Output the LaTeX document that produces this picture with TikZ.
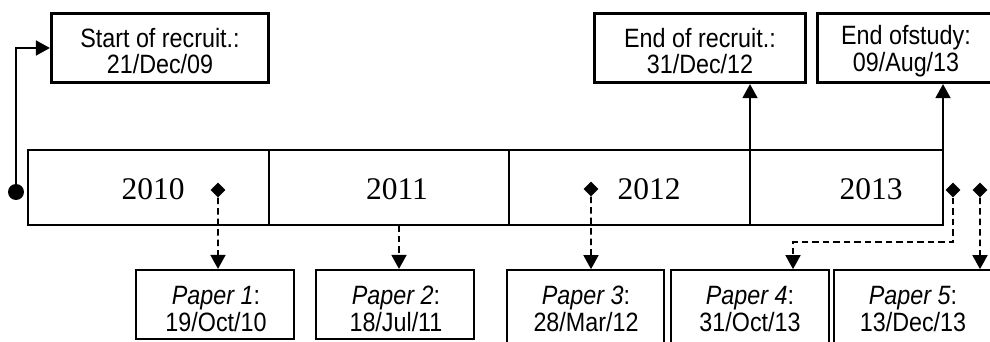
\documentclass[tikz,border=0pt]{standalone}
\usepackage{fontspec}
\setmainfont{Liberation Serif}
\newfontfamily\boxfont[FakeStretch=0.88]{Liberation Sans}
\usetikzlibrary{arrows.meta}
\begin{document}
\begin{tikzpicture}[x=1pt,y=-1pt,
  cell/.style={draw, line width=1.7pt, minimum height=75pt, inner sep=0pt},
  topbox/.style={draw, line width=3.2pt, minimum height=69pt, inner sep=0pt},
  paperbox/.style={draw, line width=1.7pt, minimum width=158.5pt, inner sep=0pt},
  toptext/.style={align=center, inner sep=0pt, font=\boxfont\fontsize{26.5}{26.5}\selectfont},
  papertext/.style={align=center, inner sep=0pt, font=\boxfont\fontsize{26.5}{27}\selectfont},
  yearlbl/.style={inner sep=0pt, font=\fontsize{31.5}{31.5}\selectfont},
  dia/.style={fill=black, rotate=45, minimum size=10.5pt, inner sep=0pt},
  dot/.style={circle, fill=black, minimum size=16pt, inner sep=0pt},
  link/.style={line width=1.7pt, -{Triangle[length=14pt,width=15pt]}},
  dlink/.style={link, dash pattern=on 6.5pt off 4pt}]
\useasboundingbox (0,0) rectangle (990,342);
\clip (0,0) rectangle (990,342);

% timeline cells
\node[cell, minimum width=241pt] (c2010) at (148.5,187.5) {};
\node[cell, minimum width=240pt] (c2011) at (389,187.5) {};
\node[cell, minimum width=241pt] (c2012) at (629.5,187.5) {};
\node[cell, minimum width=193pt] (c2013) at (846.5,187.5) {};
\node[yearlbl] (y2010) at (153,189) {2010};
\node[yearlbl] (y2011) at (397,189) {2011};
\node[yearlbl] (y2012) at (649,189) {2012};
\node[yearlbl] (y2013) at (871,189) {2013};

% top boxes
\node[topbox, minimum width=217pt] (start) at (160,48) {};
\node[toptext] (startt) at ([yshift=-3pt]start.center) {Start of recruit.:\\21/Dec/09};
\node[topbox, minimum width=211pt] (endr) at (700,48) {};
\node[toptext] (endrt) at ([yshift=-3pt]endr.center) {End of recruit.:\\31/Dec/12};
\node[topbox, minimum width=177pt] (ends) at (906,48) {};
\node[toptext] (endst) at ([yshift=-3pt]ends.center) {End ofstudy:\\09/Aug/13};

% paper boxes
\node[paperbox, minimum height=69.5pt] (p1) at (215,304.5) {};
\node[paperbox, minimum height=69.5pt] (p2) at (395,304.5) {};
\node[paperbox, minimum height=80pt, minimum width=157.5pt] (p3) at (585.5,310) {};
\node[paperbox, minimum height=80pt] (p4) at (750,310) {};
\node[paperbox, minimum height=80pt] (p5) at (913,310) {};
\node[papertext] (p1t) at (216,309) {\textit{Paper 1}:\\19/Oct/10};
\node[papertext] (p2t) at (396,309) {\textit{Paper 2}:\\18/Jul/11};
\node[papertext] (p3t) at (586,309) {\textit{Paper 3}:\\28/Mar/12};
\node[papertext] (p4t) at (750,309) {\textit{Paper 4}:\\31/Oct/13};
\node[papertext] (p5t) at (913,309) {\textit{Paper 5}:\\13/Dec/13};

% start marker and arrows
\node[dot] (dotstart) at (16,192) {};
\draw[link] (dotstart) |- (start.west);
\coordinate (er) at (750,150);
\draw[link] (er) -- (er |- endr.south);
\coordinate (es) at (943,150);
\draw[link] (es) -- (es |- ends.south);

% paper markers
\node[dia] (d1) at (218,190) {};
\draw[dlink] (d1) -- (d1 |- p1.north);
\coordinate (q2) at (399,225);
\draw[dlink] (q2) -- (q2 |- p2.north);
\node[dia] (d3) at (591,189) {};
\draw[dlink] (d3) -- (d3 |- p3.north);
\node[dia] (d4) at (953,190) {};
\coordinate (k4) at (793,242);
\draw[dlink] (d4) |- (k4) -- (k4 |- p4.north);
\node[dia] (d5) at (980,190) {};
\draw[dlink] (d5) -- (d5 |- p5.north);
\end{tikzpicture}
\end{document}
